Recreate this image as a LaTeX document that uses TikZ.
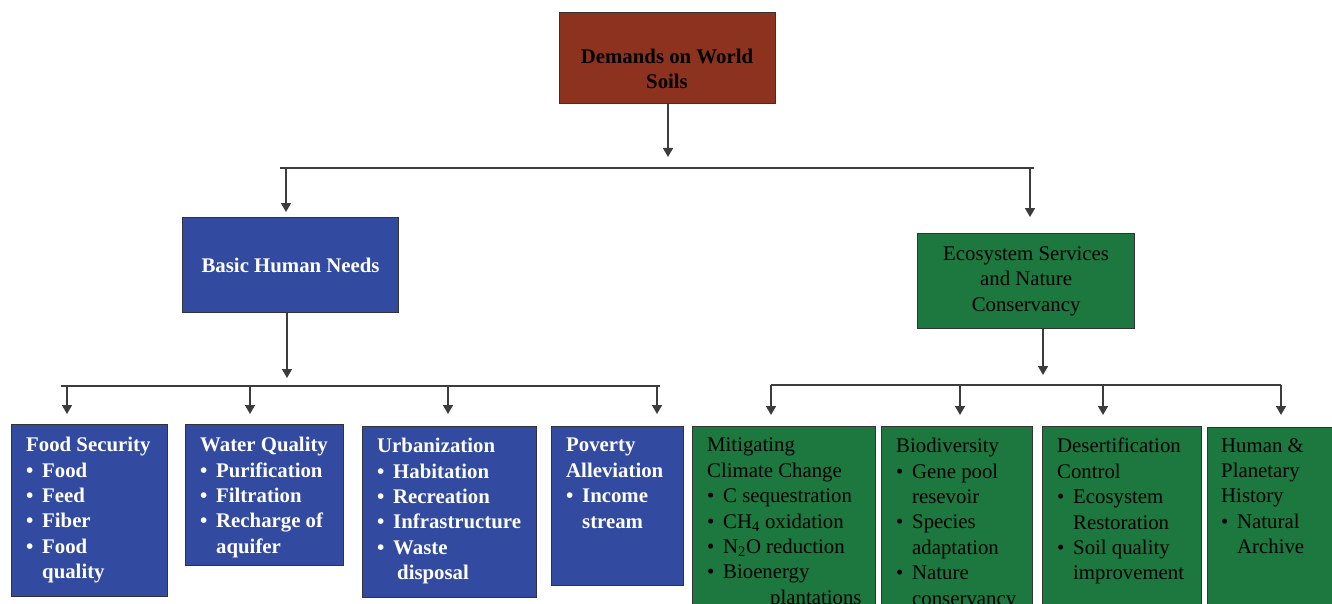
\documentclass[tikz,border=0pt]{standalone}
\usepackage{fontspec}
\setmainfont{Liberation Serif}
\usetikzlibrary{arrows.meta,calc}
\definecolor{soilred}{RGB}{140,50,30}
\definecolor{needblue}{RGB}{50,74,160}
\definecolor{ecogreen}{RGB}{28,120,62}
\definecolor{linegray}{RGB}{60,60,60}
\newcommand\bi[1]{\makebox[16pt][l]{\textbullet}#1}
\newcommand\ci[1]{\hspace*{16pt}#1}
\begin{document}
\begin{tikzpicture}[x=1pt,y=-1pt,
  font=\fontsize{20.8}{25.4}\selectfont,
  box/.style={draw=black!80, line width=1.2pt, anchor=north west, inner sep=0pt},
  redbox/.style={box, fill=soilred},
  bluebox/.style={box, fill=needblue},
  greenbox/.style={box, fill=ecogreen},
  wtxt/.style={text=white, font=\fontsize{20.8}{25.4}\selectfont\bfseries, align=left, anchor=north west, inner sep=0pt},
  gtxt/.style={text=black, align=left, anchor=north west, inner sep=0pt},
  conn/.style={draw=linegray, line width=1.6pt},
  arr/.style={conn, -{Triangle[width=10pt,length=9pt]}}
]
\useasboundingbox (0,0) rectangle (1332,604);
\clip (0,0) rectangle (1332,604);

% top
\node[redbox, minimum width=216pt, minimum height=91pt] (dem) at (559,12) {};
\node[font=\fontsize{20.8}{25.4}\selectfont\bfseries, align=center, inner sep=0pt] (demt) at (667,69) {Demands on World\\Soils};

% second level
\node[bluebox, minimum width=216pt, minimum height=95pt, text=white, font=\fontsize{20.8}{25.4}\selectfont\bfseries] (bhn) at (182,217) {Basic Human Needs};
\node[greenbox, minimum width=217pt, minimum height=95pt, align=center] (eco) at (917,233) {Ecosystem Services\\and Nature\\Conservancy};

% bus coordinates
\coordinate (busL) at (280,168);
\coordinate (busR) at (1034,168);
\coordinate (t1) at (286,168);
\coordinate (t2) at (1030,168);
\coordinate (lbL) at (61,386);
\coordinate (lbR) at (660,386);
\coordinate (l1) at (67,386);
\coordinate (l2) at (250,386);
\coordinate (l3) at (448,386);
\coordinate (l4) at (657,386);
\coordinate (rbL) at (771,385);
\coordinate (rbR) at (1281,385);
\coordinate (r1) at (771,385);
\coordinate (r2) at (960,385);
\coordinate (r3) at (1103,385);
\coordinate (r4) at (1281,385);

% bottom blue boxes
\node[bluebox, minimum width=156pt, minimum height=172pt] (fs) at (11,424) {};
\node[bluebox, minimum width=158pt, minimum height=141pt] (wq) at (185,424) {};
\node[bluebox, minimum width=174pt, minimum height=171pt] (urb) at (362,426) {};
\node[bluebox, minimum width=132pt, minimum height=159pt] (pov) at (551,426) {};

% bottom green boxes
\node[greenbox, minimum width=183pt, minimum height=200pt] (mit) at (692,426) {};
\node[greenbox, minimum width=151pt, minimum height=200pt] (bio) at (881,426) {};
\node[greenbox, minimum width=159pt, minimum height=200pt] (des) at (1042,426) {};
\node[greenbox, minimum width=140pt, minimum height=200pt] (hum) at (1207,427) {};

% texts
\node[wtxt] (fst) at (26,437) {Food Security\\\bi{Food}\\\bi{Feed}\\\bi{Fiber}\\\bi{Food}\\\ci{quality}};
\node[wtxt] (wqt) at (200,437) {Water Quality\\\bi{Purification}\\\bi{Filtration}\\\bi{Recharge of}\\\ci{aquifer}};
\node[wtxt] (urbt) at (377,438) {Urbanization\\\bi{Habitation}\\\bi{Recreation}\\\bi{Infrastructure}\\\bi{Waste}\\\hspace*{20pt}disposal};
\node[wtxt] (povt) at (566,438) {Poverty\\Alleviation\\\bi{Income}\\\ci{stream}};

\node[gtxt] (mitt) at (707,438) {Mitigating\\Climate Change\\\bi{C sequestration}\\\bi{CH\textsubscript{4} oxidation}\\\bi{N\textsubscript{2}O reduction}\\\bi{Bioenergy}\\\hspace*{63pt}plantations};
\node[gtxt] (biot) at (896,438) {Biodiversity\\\bi{Gene pool}\\\ci{resevoir}\\\bi{Species}\\\ci{adaptation}\\\bi{Nature}\\\ci{conservancy}};
\node[gtxt] (dest) at (1057,438) {Desertification\\Control\\\bi{Ecosystem}\\\ci{Restoration}\\\bi{Soil quality}\\\ci{improvement}};
\node[gtxt] (humt) at (1221,438) {Human \&\\Planetary\\History\\\bi{Natural}\\\ci{Archive}};

% connectors
\draw[arr, shorten >=11pt] (dem.south -| 668,0) -- (668,168);
\draw[conn] (busL) -- (busR);
\draw[arr, shorten >=5pt] (t1) -- (t1 |- bhn.north);
\draw[arr, shorten >=16pt] (t2) -- (t2 |- eco.north);

\draw[arr, shorten >=8pt] (bhn.south -| 287,0) -- (287,386);
\draw[conn] (lbL) -- (lbR);
\draw[arr, shorten >=10pt] (l1) -- (l1 |- fs.north);
\draw[arr, shorten >=10pt] (l2) -- (l2 |- wq.north);
\draw[arr, shorten >=12pt] (l3) -- (l3 |- urb.north);
\draw[arr, shorten >=12pt] (l4) -- (l4 |- pov.north);

\draw[arr, shorten >=10pt] (eco.south -| 1043,0) -- (1043,385);
\draw[conn] (rbL) -- (rbR);
\draw[arr, shorten >=11pt] (r1) -- (r1 |- mit.north);
\draw[arr, shorten >=11pt] (r2) -- (r2 |- bio.north);
\draw[arr, shorten >=11pt] (r3) -- (r3 |- des.north);
\draw[arr, shorten >=12pt] (r4) -- (r4 |- hum.north);
\end{tikzpicture}
\end{document}
